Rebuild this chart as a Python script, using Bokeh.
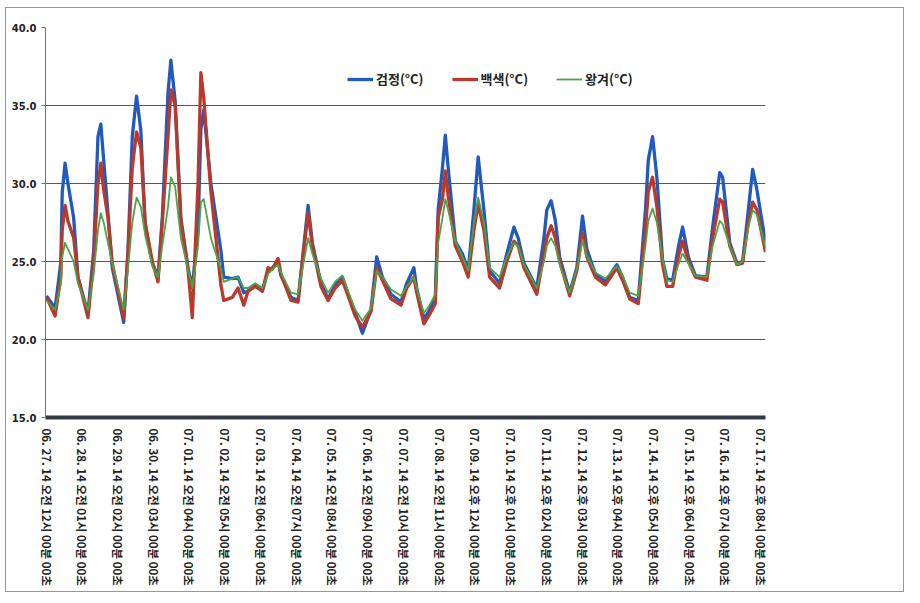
import math
from bokeh.plotting import figure
from bokeh.models import Range1d, FixedTicker, Legend, LegendItem, NumeralTickFormatter
from bokeh.embed import file_html
from bokeh.resources import INLINE

# hours elapsed since 06.27 00:00
hours = [0, 6, 10, 11, 13, 15, 19, 22, 29, 33, 36, 38, 40, 43, 46, 54, 57, 60, 63, 66,
         69, 74, 78, 81, 85, 87, 90, 94, 99, 102, 106, 108, 110, 115, 122, 124, 130, 134, 138, 141,
         146, 151, 155, 158, 162, 164, 171, 176, 179, 183, 186, 192, 197, 202, 207, 211, 216, 221, 227, 231,
         235, 241, 248, 252, 257, 259, 264, 268, 272, 274, 277, 279, 281, 286, 291, 295, 299, 302, 306, 310,
         317, 322, 327, 330, 334, 343, 348, 350, 353, 356, 359, 366, 371, 375, 378, 384, 391, 399, 403, 408,
         414, 419, 421, 424, 427, 431, 434, 438, 442, 445, 449, 454, 462, 466, 471, 473, 478, 483, 487, 491,
         494, 497, 503]

black = [22.8, 22.0, 24.9, 29.4, 31.3, 30.0, 27.8, 24.0, 21.7, 25.7, 33.0, 33.8, 31.5, 28.1, 24.6, 21.1, 25.7, 33.0, 35.6, 33.4,
         27.4, 24.9, 24.0, 27.8, 35.8, 37.9, 35.3, 27.8, 24.6, 23.3, 27.0, 33.5, 34.7, 30.0, 25.7, 24.0, 23.9, 24.0, 23.0, 23.1,
         23.5, 23.1, 24.4, 24.6, 25.0, 24.1, 22.7, 22.5, 25.1, 28.6, 26.2, 23.6, 22.6, 23.5, 24.0, 22.9, 21.7, 20.4, 21.9, 25.3,
         24.0, 22.9, 22.4, 23.6, 24.6, 23.3, 21.3, 21.9, 22.7, 28.3, 31.0, 33.1, 31.0, 26.3, 25.5, 24.4, 28.3, 31.7, 28.3, 24.4,
         23.6, 25.5, 27.2, 26.5, 24.9, 23.3, 26.5, 28.3, 28.9, 27.6, 25.3, 23.0, 24.6, 27.9, 25.8, 24.2, 23.7, 24.8, 24.0, 22.7,
         22.5, 28.3, 31.5, 33.0, 30.4, 25.1, 23.9, 23.8, 25.9, 27.2, 25.3, 24.1, 24.0, 27.2, 30.7, 30.4, 26.2, 24.9, 25.0, 28.3,
         30.9, 29.6, 26.2]

white = [22.7, 21.5, 24.0, 27.0, 28.6, 27.6, 26.5, 24.0, 21.4, 25.0, 30.0, 31.3, 29.6, 27.8, 24.9, 21.4, 25.5, 31.0, 33.3, 32.3,
         27.5, 25.0, 23.7, 27.5, 33.0, 36.0, 35.0, 27.5, 24.5, 21.4, 30.0, 37.1, 35.5, 29.5, 23.5, 22.5, 22.7, 23.3, 22.2, 23.1,
         23.4, 23.1, 24.6, 24.5, 25.2, 24.2, 22.5, 22.4, 25.0, 28.1, 26.0, 23.4, 22.5, 23.3, 23.8, 22.8, 21.5, 20.8, 21.8, 24.6,
         23.8, 22.6, 22.2, 23.3, 24.0, 23.0, 21.0, 21.6, 22.3, 27.8, 29.0, 30.8, 29.2, 26.0, 25.0, 24.0, 27.0, 28.7, 27.0, 24.0,
         23.3, 25.0, 26.3, 26.0, 24.6, 22.9, 25.5, 26.5, 27.3, 26.5, 25.0, 22.8, 24.4, 26.8, 25.3, 24.0, 23.5, 24.6, 23.8, 22.6,
         22.3, 27.0, 29.5, 30.4, 28.5, 24.8, 23.4, 23.4, 25.3, 26.3, 25.0, 24.0, 23.8, 26.5, 29.0, 28.8, 26.0, 24.8, 24.9, 27.5,
         28.8, 28.3, 25.6]

husk = [22.5, 21.9, 23.5, 25.3, 26.2, 25.8, 25.0, 23.6, 21.9, 24.2, 27.0, 28.1, 27.5, 26.2, 24.9, 21.9, 24.5, 27.5, 29.1, 28.5,
        26.7, 24.7, 24.0, 26.0, 28.5, 30.4, 29.8, 26.5, 24.5, 23.3, 26.0, 28.8, 29.0, 26.5, 24.5, 23.7, 23.9, 24.0, 23.3, 23.3,
        23.6, 23.3, 24.2, 24.5, 24.8, 24.3, 23.0, 22.9, 24.5, 26.5, 25.5, 23.9, 23.0, 23.7, 24.1, 23.1, 21.9, 21.2, 22.0, 24.4,
        24.0, 23.2, 22.8, 23.4, 24.0, 23.3, 21.7, 22.2, 22.9, 26.2, 27.8, 29.0, 28.3, 26.3, 25.3, 24.4, 27.5, 29.1, 27.5, 24.6,
        24.0, 25.3, 26.2, 26.0, 24.8, 23.3, 25.0, 26.0, 26.5, 26.0, 24.8, 23.0, 24.5, 26.4, 25.4, 24.3, 23.9, 24.7, 24.1, 23.0,
        22.8, 26.0, 27.6, 28.4, 27.5, 25.2, 23.8, 23.7, 24.8, 25.5, 24.9, 24.1, 24.0, 26.0, 27.6, 27.4, 26.0, 24.8, 25.0, 27.2,
        28.3, 28.0, 25.9]

series_names = ["검정(°C)", "백색(°C)", "왕겨(°C)"]

tick_hours = [0, 25, 50, 75, 100, 125, 150, 175, 200, 225, 250, 275, 300, 325, 350, 375, 400, 425, 450, 475, 500]
tick_labels = [
    "06. 27. 14 오전 12시 00분 00초", "06. 28. 14 오전 01시 00분 00초", "06. 29. 14 오전 02시 00분 00초",
    "06. 30. 14 오전 03시 00분 00초", "07. 01. 14 오전 04시 00분 00초", "07. 02. 14 오전 05시 00분 00초",
    "07. 03. 14 오전 06시 00분 00초", "07. 04. 14 오전 07시 00분 00초", "07. 05. 14 오전 08시 00분 00초",
    "07. 06. 14 오전 09시 00분 00초", "07. 07. 14 오전 10시 00분 00초", "07. 08. 14 오전 11시 00분 00초",
    "07. 09. 14 오후 12시 00분 00초", "07. 10. 14 오후 01시 00분 00초", "07. 11. 14 오후 02시 00분 00초",
    "07. 12. 14 오후 03시 00분 00초", "07. 13. 14 오후 04시 00분 00초", "07. 14. 14 오후 05시 00분 00초",
    "07. 15. 14 오후 06시 00분 00초", "07. 16. 14 오후 07시 00분 00초", "07. 17. 14 오후 08시 00분 00초",
]
y_ticks = [15, 20, 25, 30, 35, 40]

p = figure(frame_width=720, frame_height=390, output_backend="svg", toolbar_location=None,
           x_range=Range1d(-0.7, 503), y_range=Range1d(15, 40),
           min_border_left=39, min_border_right=138, min_border_top=19, min_border_bottom=174)
p.styles = {"border": "1px solid #8d99a6", "margin-left": "5px", "margin-top": "7px"}
p.background_fill_color = "white"
p.border_fill_color = "white"
p.outline_line_color = None

r1 = p.line(hours, black, line_color="#2259bd", line_width=3.3, line_join="round")
r2 = p.line(hours, white, line_color="#b9392c", line_width=3.3, line_join="round")
r3 = p.line(hours, husk, line_color="#4aa548", line_width=1.8, line_join="round")

p.xaxis.ticker = FixedTicker(ticks=tick_hours)
p.xaxis.major_label_overrides = {h: t for h, t in zip(tick_hours, tick_labels)}
p.xaxis.major_label_orientation = -math.pi / 2
p.xaxis.major_label_text_font = "Noto Sans CJK KR"
p.xaxis.major_label_text_font_size = "11.5px"
p.xaxis.major_label_text_font_style = "bold"
p.xaxis.major_label_text_color = "#222222"
p.xaxis.major_label_standoff = 5
p.xaxis.major_tick_line_color = None
p.xaxis.minor_tick_line_color = None
p.xaxis.axis_line_width = 4
p.xaxis.axis_line_color = "#333c46"
p.xgrid.visible = False

p.yaxis.ticker = FixedTicker(ticks=y_ticks)
p.yaxis.formatter = NumeralTickFormatter(format="0.0")
p.yaxis.major_label_text_font = "DejaVu Sans"
p.yaxis.major_label_text_font_style = "bold"
p.yaxis.major_label_text_font_size = "10px"
p.yaxis.major_label_text_color = "#222222"
p.yaxis.major_label_standoff = 5
p.yaxis.major_tick_out = 4
p.yaxis.major_tick_in = 0
p.yaxis.major_tick_line_color = "#6a7884"
p.yaxis.minor_tick_line_color = None
p.yaxis.axis_line_color = "#6a7884"
p.ygrid.ticker = FixedTicker(ticks=y_ticks)
p.ygrid.grid_line_color = "#4f5963"
p.ygrid.grid_line_width = 1.2

legend = Legend(items=[LegendItem(label=series_names[0], renderers=[r1]),
                       LegendItem(label=series_names[1], renderers=[r2]),
                       LegendItem(label=series_names[2], renderers=[r3])],
                orientation="horizontal", location=(302, 329),
                glyph_width=26, glyph_height=14, label_standoff=3, spacing=28,
                padding=0, margin=0, border_line_color=None, background_fill_alpha=0,
                label_text_font="Noto Sans CJK KR", label_text_font_style="bold",
                label_text_font_size="13px", label_text_color="#222222")
p.add_layout(legend)

open("out.html", "w").write(file_html(p, INLINE))
